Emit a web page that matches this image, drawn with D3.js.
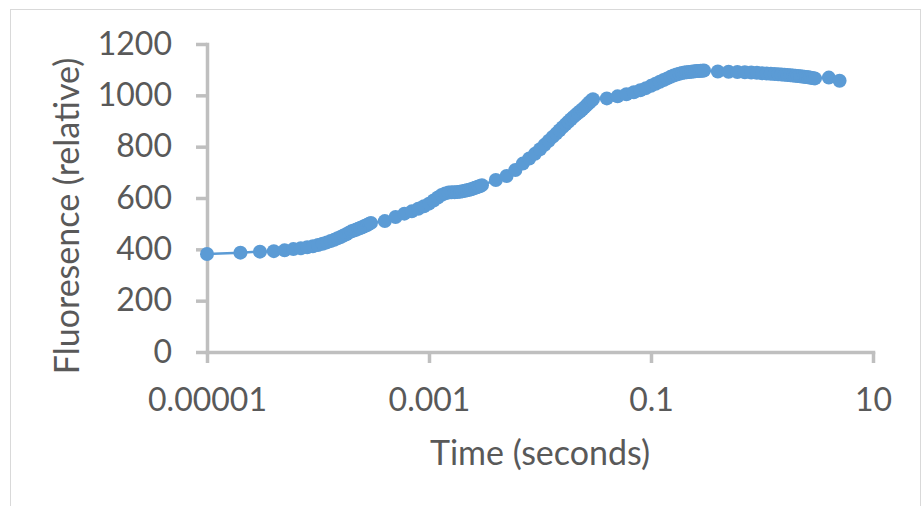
<!DOCTYPE html>
<html>
<head>
<meta charset="utf-8">
<script src="https://cdn.jsdelivr.net/npm/d3@7"></script>
<style>
  html, body { margin: 0; padding: 0; background: #fff; }
  svg { display: block; font-family: Lato, 'Open Sans', sans-serif; }
  .axis path, .axis line { stroke: #bfbfbf; stroke-width: 3.5; }
  .axis text { fill: #595959; font-size: 32px; }
  .axis-title { fill: #595959; font-size: 34px; }
</style>
</head>
<body>
<svg id="chart" width="922" height="506"></svg>
<script>
// sample times (s)
const timeSeconds = [
  0.00001, 0.00002, 0.00003, 0.00004, 0.00005, 0.00006, 0.00007, 0.00008, 0.00009, 0.0001,
  0.00011, 0.00012, 0.00013, 0.00014, 0.00015, 0.00016, 0.00017, 0.00018, 0.00019, 0.0002,
  0.00021, 0.00022, 0.00023, 0.00024, 0.00025, 0.00026, 0.00027, 0.00028, 0.00029, 0.0003,
  0.0004, 0.0005, 0.0006, 0.0007, 0.0008, 0.0009, 0.001, 0.0011, 0.0012, 0.0013,
  0.0014, 0.0015, 0.0016, 0.0017, 0.0018, 0.0019, 0.002, 0.0021, 0.0022, 0.0023,
  0.0024, 0.0025, 0.0026, 0.0027, 0.0028, 0.0029, 0.003,
  0.004, 0.005, 0.006, 0.007, 0.008, 0.009, 0.01, 0.011, 0.012, 0.013,
  0.014, 0.015, 0.016, 0.017, 0.018, 0.019, 0.02, 0.021, 0.022, 0.023,
  0.024, 0.025, 0.026, 0.027, 0.028, 0.029, 0.03,
  0.04, 0.05, 0.06, 0.07, 0.08, 0.09, 0.1, 0.11, 0.12, 0.13,
  0.14, 0.15, 0.16, 0.17, 0.18, 0.19, 0.2, 0.21, 0.22, 0.23,
  0.24, 0.25, 0.26, 0.27, 0.28, 0.29, 0.3,
  0.4, 0.5, 0.6, 0.7, 0.8, 0.9, 1, 1.1, 1.2, 1.3,
  1.4, 1.5, 1.6, 1.7, 1.8, 1.9, 2, 2.1, 2.2, 2.3,
  2.4, 2.5, 2.6, 2.7, 2.8, 2.9, 3,
  4, 5
];

// relative fluorescence at each time
const fluorescence = [
  382, 387, 391, 393, 396, 401, 404, 408, 412, 417,
  422, 427, 432, 437, 443, 448, 454, 459, 465, 470,
  473, 476, 480, 483, 486, 490, 493, 496, 500, 503,
  510, 526, 539, 548, 558, 568, 578, 590, 602, 612,
  618, 621, 622, 622, 623, 624, 626, 628, 630, 632,
  634, 637, 640, 642, 645, 647, 650,
  670, 686, 709, 734, 754, 772, 790, 807, 823, 838,
  851, 864, 876, 887, 897, 907, 916, 924, 931, 938,
  945, 952, 959, 966, 973, 979, 985,
  988, 996, 1004, 1012, 1020, 1028, 1037, 1045, 1053, 1060,
  1066, 1072, 1077, 1081, 1084, 1087, 1089, 1090, 1091, 1092,
  1093, 1094, 1095, 1095, 1096, 1096, 1097,
  1093, 1092, 1091, 1090, 1089, 1088, 1086, 1085, 1084, 1083,
  1082, 1081, 1080, 1079, 1078, 1077, 1076, 1075, 1074, 1073,
  1072, 1071, 1070, 1069, 1068, 1067, 1066,
  1069, 1057
];

const xTicks = [0.00001, 0.001, 0.1, 10];
const xTickLabels = ['0.00001', '0.001', '0.1', '10'];
const yTicks = [0, 200, 400, 600, 800, 1000, 1200];

const points = timeSeconds.map((t, i) => ({ t, v: fluorescence[i] }));

const svg = d3.select('#chart');
const plot = { left: 207, right: 873, top: 44, bottom: 352 };

// chart area border
svg.append('rect')
  .attr('x', 10.5).attr('y', 9.5)
  .attr('width', 910).attr('height', 520)
  .attr('fill', '#fff').attr('stroke', '#d9d9d9').attr('stroke-width', 1);

const x = d3.scaleLog().domain([0.00001, 10]).range([plot.left, plot.right]);
const y = d3.scaleLinear().domain([0, 1200]).range([plot.bottom, plot.top]);

svg.append('g').attr('class', 'axis')
  .attr('transform', `translate(${plot.left},0)`)
  .call(d3.axisLeft(y).tickValues(yTicks).tickSize(11).tickSizeOuter(0).tickPadding(24)
    .tickFormat(d3.format('d')));

svg.append('g').attr('class', 'axis')
  .attr('transform', `translate(0,${plot.bottom})`)
  .call(d3.axisBottom(x).tickValues(xTicks).tickSize(11).tickSizeOuter(0).tickPadding(25)
    .tickFormat((d, i) => xTickLabels[i]));

svg.selectAll('.axis').attr('font-family', null).attr('font-size', null);
svg.selectAll('.axis .domain').attr('stroke-linecap', 'square');

svg.append('text').attr('class', 'axis-title')
  .attr('x', (plot.left + plot.right) / 2).attr('y', 465)
  .attr('text-anchor', 'middle')
  .text('Time (seconds)');

svg.append('text').attr('class', 'axis-title')
  .attr('transform', 'translate(79,216) rotate(-90)')
  .attr('text-anchor', 'middle')
  .text('Fluoresence (relative)');

const line = d3.line().x((d) => x(d.t)).y((d) => y(d.v));

svg.append('path').datum(points)
  .attr('fill', 'none')
  .attr('stroke', '#5b9bd5')
  .attr('stroke-width', 2.5)
  .attr('d', line);

svg.append('g').selectAll('circle')
  .data(points)
  .join('circle')
  .attr('cx', (d) => x(d.t))
  .attr('cy', (d) => y(d.v))
  .attr('r', 7)
  .attr('fill', '#5b9bd5');
</script>
</body>
</html>
